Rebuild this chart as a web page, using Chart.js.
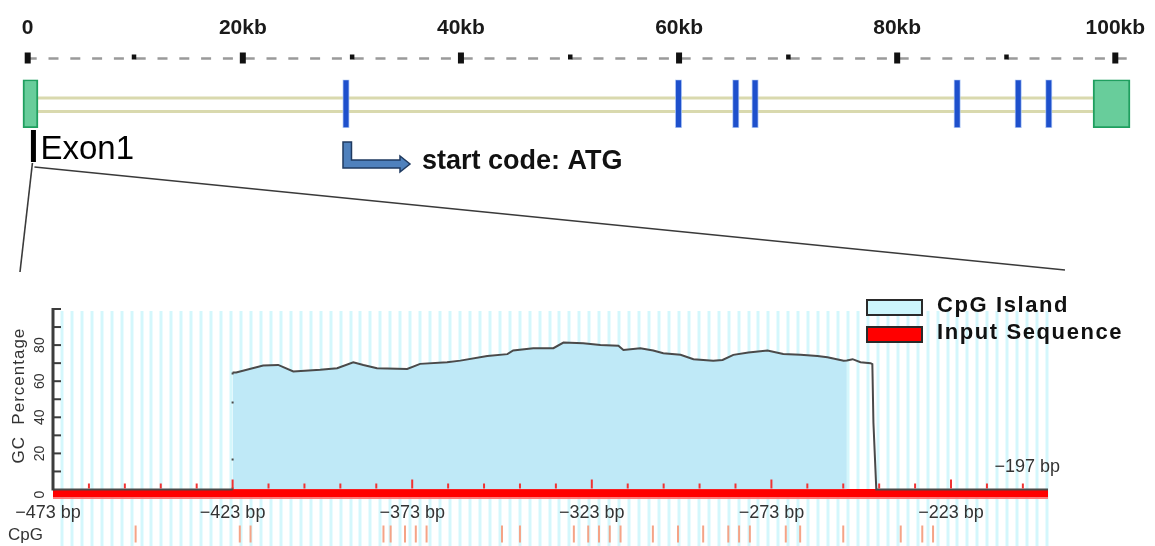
<!DOCTYPE html>
<html><head><meta charset="utf-8">
<script src="https://cdn.jsdelivr.net/npm/chart.js@4/dist/chart.umd.min.js"></script>
<style>
html,body{margin:0;padding:0;background:#fff;}
#wrap{position:relative;width:1155px;height:546px;overflow:hidden;background:#fff;}
#top{position:absolute;left:0;top:0;}
#bot{position:absolute;left:0;top:285px;}
</style></head><body>
<div id="wrap"><canvas id="top" width="1155" height="290"></canvas><canvas id="bot" width="1155" height="261"></canvas></div>
<script>
// ===== Gene structure (kb) =====
const kbTickValues = [0, 20, 40, 60, 80, 100];
const kbTickLabels = ['0', '20kb', '40kb', '60kb', '80kb', '100kb'];
const kbMinorTicks = [10, 30, 50, 70, 90];
const utrExonStarts = [-0.16, 97.96];
const utrExonEnds = [1.22, 101.35];
const codingExonStarts = [29.16, 59.65, 64.9, 66.67, 85.2, 90.8, 93.6];
const codingExonEnds = [29.76, 60.25, 65.5, 67.27, 85.8, 91.4, 94.2];
const startCodonKb = 29.46;
const exon1MarkerKb = 0.8;
const exon1Label = 'Exon1';
const startCodonLabel = 'start code: ATG';

// ===== GC content (bp) =====
const bpTickValues = [-473, -423, -373, -323, -273, -223];
const bpTickLabels = ['\u2212473 bp', '\u2212423 bp', '\u2212373 bp', '\u2212323 bp', '\u2212273 bp', '\u2212223 bp'];
const bpEndLabel = '\u2212197 bp';
const gcTickValues = [0, 20, 40, 60, 80];
const gcPos = [-473, -423, -423, -422, -414.5, -410.3, -406.1, -398.6, -393.9, -389.4, -386.6, -382.8, -374.4, -370.8, -363.3, -359.6, -352.1, -346.5, -344.9, -339.3, -333.7, -330.9, -325.4, -320.6, -315.6, -314.2, -309.5, -305.9, -303.1, -298.3, -294.7, -289.2, -286.6, -283.6, -279.4, -274.1, -269.7, -264.9, -260.2, -257.4, -252.9, -252, -250.4, -248.2, -245.4, -244.9, -244.6, -243.8, -196];
const gcVal = [0, 0, 64.8, 64.8, 68.7, 69, 65.4, 66.3, 67.2, 70.5, 69, 67.2, 66.8, 69.6, 70.5, 71.4, 74, 75, 77, 78.3, 78.3, 81.4, 81, 80.1, 79.6, 77.3, 78.3, 77, 75.5, 74.6, 72.2, 71.3, 71.8, 74.6, 75.9, 77, 75.1, 74.6, 74, 73.3, 71.3, 71.5, 72.2, 70.5, 70, 69.5, 37, 0, 0];
const islandStart = -423;
const islandEnd = -252;
const inputSeqStart = -473;
const inputSeqEnd = -196;
const cpgSites = [-450, -421, -418, -381, -379, -375, -372, -369, -348, -343, -328, -324, -321, -318, -315, -306, -299, -292, -285, -282, -279, -269, -265, -253, -237, -231, -228];
const legendLabels = ['CpG Island', 'Input Sequence'];
const legendColors = ['#cdf6fb', '#ff0000'];

const FONT = '"Liberation Sans", Arial, sans-serif';

// ---------- TOP CHART ----------
const kbMin = -2.265, kbMax = 103.64;
const genePlugin = {
  id: 'geneDecor',
  beforeDatasetsDraw(chart) {
    const {ctx, chartArea: a, scales: {x}} = chart;
    ctx.save();
    ctx.strokeStyle = '#d9d9ae';
    ctx.lineWidth = 3;
    const x0 = x.getPixelForValue(utrExonStarts[0]), x1 = x.getPixelForValue(utrExonStarts[1]);
    [a.top + 18.5, a.top + 32].forEach(yy => {
      ctx.beginPath(); ctx.moveTo(x0, yy); ctx.lineTo(x1, yy); ctx.stroke();
    });
    ctx.restore();
  },
  afterDraw(chart) {
    const {ctx, scales: {x}} = chart;
    ctx.save();
    // dashed ruler
    const rx0 = x.getPixelForValue(kbTickValues[0]);
    const rx1 = x.getPixelForValue(kbTickValues[kbTickValues.length - 1]) + 14;
    ctx.strokeStyle = '#9a9a9a';
    ctx.lineWidth = 2.5;
    ctx.setLineDash([10, 11.8]);
    ctx.lineDashOffset = -2;
    ctx.beginPath(); ctx.moveTo(rx0, 58.5); ctx.lineTo(rx1, 58.5); ctx.stroke();
    ctx.setLineDash([]);
    ctx.fillStyle = '#111';
    kbTickValues.forEach((v, i) => {
      const px = x.getPixelForValue(v) + (i === 0 ? 3 : 0);
      ctx.fillRect(px - 3, 52.5, 6, 11);
    });
    kbMinorTicks.forEach(v => {
      const px = x.getPixelForValue(v);
      ctx.fillRect(px - 2, 54.5, 4.5, 5);
    });
    ctx.font = 'bold 21px ' + FONT;
    ctx.textAlign = 'center';
    ctx.textBaseline = 'middle';
    ctx.fillStyle = '#1a1a1a';
    kbTickValues.forEach((v, i) => {
      const px = x.getPixelForValue(v) + (i === 0 ? 3 : 0);
      ctx.fillText(kbTickLabels[i], px, 28);
    });
    // Exon1 marker + label
    const mx = x.getPixelForValue(exon1MarkerKb);
    ctx.fillStyle = '#000';
    ctx.fillRect(mx - 2.5, 130, 5, 32);
    ctx.font = '33px ' + FONT;
    ctx.textAlign = 'left';
    ctx.textBaseline = 'alphabetic';
    ctx.fillText(exon1Label, mx + 7, 159);
    // zoom lines
    ctx.strokeStyle = '#3a3a3a';
    ctx.lineWidth = 1.6;
    ctx.beginPath(); ctx.moveTo(mx - 1, 163); ctx.lineTo(20, 272); ctx.stroke();
    ctx.beginPath(); ctx.moveTo(mx + 1, 167); ctx.lineTo(1065, 270); ctx.stroke();
    // start codon bent arrow
    const L = x.getPixelForValue(startCodonKb) - 3;
    ctx.beginPath();
    ctx.moveTo(L, 142); ctx.lineTo(L + 8.5, 142); ctx.lineTo(L + 8.5, 160);
    ctx.lineTo(400, 160); ctx.lineTo(400, 156); ctx.lineTo(410, 164);
    ctx.lineTo(400, 172); ctx.lineTo(400, 168); ctx.lineTo(L, 168); ctx.closePath();
    ctx.fillStyle = '#4f81bd'; ctx.fill();
    ctx.strokeStyle = '#1f3a60'; ctx.lineWidth = 1.5; ctx.stroke();
    ctx.font = 'bold 27px ' + FONT;
    ctx.fillStyle = '#111';
    ctx.fillText(startCodonLabel, 422, 169);
    ctx.restore();
  }
};

new Chart(document.getElementById('top'), {
  type: 'bar',
  data: {
    labels: ['gene'],
    datasets: [
      {
        label: 'UTR exon',
        data: utrExonStarts.map((s, i) => ({x: [s, utrExonEnds[i]], y: 'gene'})),
        backgroundColor: '#68cd9b', borderColor: '#1f9f5f', borderWidth: 2, borderSkipped: false,
        grouped: false, barPercentage: 1, categoryPercentage: 1
      },
      {
        label: 'coding exon',
        data: codingExonStarts.map((s, i) => ({x: [s, codingExonEnds[i]], y: 'gene'})),
        backgroundColor: '#1e50cc', borderColor: 'rgba(160,190,245,0.8)', borderWidth: 1, borderSkipped: false,
        grouped: false, barPercentage: 1, categoryPercentage: 1
      }
    ]
  },
  options: {
    indexAxis: 'y', responsive: false, animation: false, devicePixelRatio: 1,
    layout: {padding: {top: 79.5, bottom: 162, left: 0, right: 0}},
    scales: {
      x: {type: 'linear', min: kbMin, max: kbMax, display: false},
      y: {type: 'category', display: false}
    },
    plugins: {legend: {display: false}, tooltip: {enabled: false}}
  },
  plugins: [genePlugin]
});

// ---------- BOTTOM CHART ----------
const xMin = inputSeqStart, xMax = inputSeqEnd;
const gcData = gcPos.map((p, i) => ({x: p, y: gcVal[i]}));
const islandData = gcData.filter(d => d.x >= islandStart && d.x <= islandEnd && d.y > 0);

const gcPlugin = {
  id: 'gcDecor',
  beforeDatasetsDraw(chart) {
    const {ctx, chartArea: a, scales: {x, y}} = chart;
    ctx.save();
    ctx.strokeStyle = 'rgb(212,247,252)';
    ctx.lineWidth = 3;
    const n = 100;
    for (let i = 1; i <= n; i++) {
      const px = Math.round(x.getPixelForValue(xMin + i * (xMax - xMin) / n)) - 1;
      ctx.beginPath(); ctx.moveTo(px, a.top + 2); ctx.lineTo(px, chart.height); ctx.stroke();
    }
    const y0 = y.getPixelForValue(0);
    const xs = x.getPixelForValue(inputSeqStart), xe = x.getPixelForValue(inputSeqEnd);
    ctx.fillStyle = '#ff0000';
    ctx.fillRect(xs, y0 - 0.5, xe - xs, 8.5);
    ctx.fillStyle = '#ff7a7a';
    ctx.fillRect(xs, y0 + 8, xe - xs, 1.5);
    ctx.restore();
  },
  afterDatasetsDraw(chart) {
    const {ctx, chartArea: a, scales: {x, y}} = chart;
    const y0 = y.getPixelForValue(0);
    ctx.save();
    // red ticks on input sequence
    ctx.strokeStyle = '#f03232';
    ctx.lineWidth = 2;
    for (let v = inputSeqStart + 10; v < inputSeqEnd; v += 10) {
      const px = x.getPixelForValue(v);
      const major = (v - inputSeqStart) % 50 === 0;
      ctx.beginPath(); ctx.moveTo(px, y0 - 1); ctx.lineTo(px, y0 - (major ? 10 : 6)); ctx.stroke();
    }
    // y axis
    ctx.strokeStyle = '#3c3c3c';
    ctx.lineWidth = 3;
    ctx.beginPath(); ctx.moveTo(a.left, y.getPixelForValue(100) - 1); ctx.lineTo(a.left, y0 + 1); ctx.stroke();
    ctx.lineWidth = 2;
    for (let v = 10; v <= 100; v += 10) {
      const py = y.getPixelForValue(v);
      ctx.beginPath(); ctx.moveTo(a.left, py); ctx.lineTo(a.left + 8, py); ctx.stroke();
    }
    ctx.fillStyle = '#333';
    ctx.font = '14px ' + FONT;
    ctx.textAlign = 'center';
    ctx.textBaseline = 'middle';
    gcTickValues.forEach(v => {
      const py = y.getPixelForValue(v) + (v === 0 ? 5 : 0);
      ctx.save(); ctx.translate(40, py); ctx.rotate(-Math.PI / 2); ctx.fillText(String(v), 0, 0); ctx.restore();
    });
    ctx.save();
    ctx.font = '17px ' + FONT;
    ctx.letterSpacing = '1px';
    ctx.translate(19, y.getPixelForValue(52));
    ctx.rotate(-Math.PI / 2);
    ctx.fillText('GC  Percentage', 0, 0);
    ctx.restore();
    // x tick labels
    ctx.font = '18px ' + FONT;
    ctx.fillStyle = '#333';
    bpTickValues.forEach((v, i) => {
      ctx.fillText(bpTickLabels[i], x.getPixelForValue(v) - (i === 0 ? 5 : 0), y0 + 24);
    });
    ctx.textAlign = 'right';
    ctx.fillText(bpEndLabel, a.right + 12, y0 - 22);
    // CpG row
    ctx.textAlign = 'left';
    ctx.font = '17px ' + FONT;
    ctx.fillText('CpG', 8, y0 + 46);
    ctx.strokeStyle = '#f5a386';
    ctx.lineWidth = 2;
    cpgSites.forEach(v => {
      const px = x.getPixelForValue(v);
      ctx.beginPath(); ctx.moveTo(px, y0 + 36); ctx.lineTo(px, y0 + 53); ctx.stroke();
    });
    // legend
    const lx = 867, ly = [15, 42];
    ctx.font = 'bold 22px ' + FONT;
    ctx.letterSpacing = '1.6px';
    ctx.textBaseline = 'middle';
    legendLabels.forEach((lab, i) => {
      ctx.fillStyle = legendColors[i];
      ctx.fillRect(lx, ly[i], 55, 15);
      ctx.strokeStyle = '#2a2a2a';
      ctx.lineWidth = 2;
      ctx.strokeRect(lx, ly[i], 55, 15);
      ctx.fillStyle = '#111';
      ctx.fillText(lab, 937, ly[i] + 6);
    });
    ctx.restore();
  }
};

new Chart(document.getElementById('bot'), {
  type: 'line',
  data: {
    datasets: [
      {
        label: 'GC Percentage', data: gcData,
        borderColor: '#4a4a4a', borderWidth: 2, pointRadius: 0, fill: false, tension: 0, clip: false, order: 0,
        segment: {
          borderDash: c => (gcPos[c.p0DataIndex] === gcPos[c.p1DataIndex] && gcVal[c.p0DataIndex] === 0) ? [2, 27, 2, 55] : undefined
        }
      },
      {
        label: 'CpG Island', data: islandData,
        borderColor: 'rgba(0,0,0,0)', borderWidth: 0, pointRadius: 0,
        backgroundColor: '#bfe9f7', fill: 'origin', tension: 0, order: 1
      }
    ]
  },
  options: {
    responsive: false, animation: false, devicePixelRatio: 1,
    layout: {padding: {left: 53, right: 107, top: 24, bottom: 56.5}},
    scales: {
      x: {type: 'linear', min: xMin, max: xMax, display: false},
      y: {min: 0, max: 100, display: false}
    },
    plugins: {legend: {display: false}, tooltip: {enabled: false}}
  },
  plugins: [gcPlugin]
});
</script>
</body></html>
